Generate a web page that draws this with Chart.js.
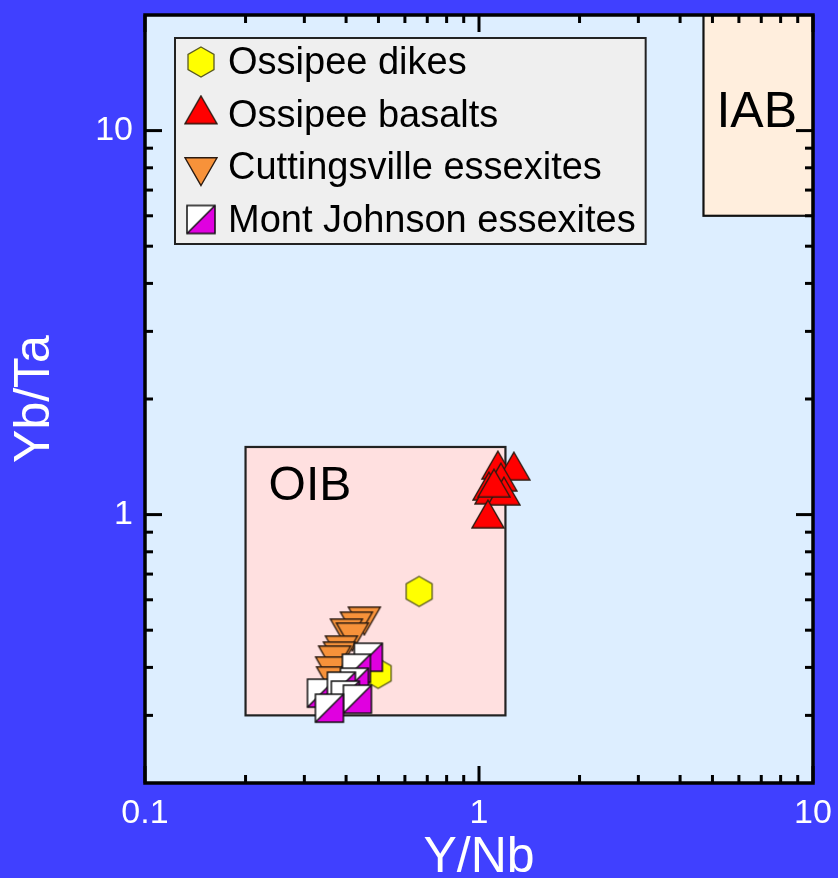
<!DOCTYPE html>
<html><head><meta charset="utf-8">
<script src="https://cdn.jsdelivr.net/npm/chart.js@4.4.0/dist/chart.umd.min.js"></script>
<style>html,body{margin:0;padding:0;background:#4040FF;}canvas{display:block;}</style>
</head><body>
<canvas id="c" width="838" height="878"></canvas>
<script>
// ---- data ----
const seriesNames = ['Ossipee dikes', 'Ossipee basalts', 'Cuttingsville essexites', 'Mont Johnson essexites'];
const dikesX = [0.662, 0.499];
const dikesY = [0.631, 0.386];
const basaltsX = [1.139, 1.272, 1.163, 1.071, 1.086, 1.188, 1.109, 1.064];
const basaltsY = [1.309, 1.301, 1.218, 1.154, 1.127, 1.120, 1.175, 0.976];
const cuttX = [0.4536, 0.4294, 0.4009, 0.4178, 0.3873, 0.382, 0.3695, 0.3620, 0.3643];
const cuttY = [0.5433, 0.5273, 0.5058, 0.4938, 0.4568, 0.4406, 0.4302, 0.4029, 0.3795];
const mjX = [0.4664, 0.4294, 0.4236, 0.3376, 0.3873, 0.398, 0.4324, 0.3566];
const mjY = [0.4252, 0.398, 0.3662, 0.3428, 0.3574, 0.3388, 0.3307, 0.3133];
const xTickValues = [0.1, 1, 10];
const xTickLabels = ['0.1', '1', '10'];
const yTickValues = [1, 10];
const yTickLabels = ['1', '10'];
const xMinorTicks = [0.2, 0.3, 0.4, 0.5, 0.6, 0.7, 0.8, 0.9, 2, 3, 4, 5, 6, 7, 8, 9];
const yMinorTicks = [0.3, 0.4, 0.5, 0.6, 0.7, 0.8, 0.9, 2, 3, 4, 5, 6, 7, 8, 9];
const regionNames = ['OIB', 'IAB'];
const oibBoxX = [0.2, 1.2];
const oibBoxY = [0.3, 1.5];
const iabBoxX = [4.7, 10];
const iabBoxY = [6, 20];

const FONT = "'Liberation Sans', Arial, sans-serif";

// ---- marker images ----
function makeCanvas(w, h, draw) {
  const c = document.createElement('canvas');
  c.width = w; c.height = h;
  draw(c.getContext('2d'), w, h);
  return c;
}
const hexMarker = makeCanvas(32, 34, (g, w, h) => {
  const R = 15, cx = w / 2, cy = h / 2;
  g.beginPath();
  for (let k = 0; k < 6; k++) {
    const a = -Math.PI / 2 + k * Math.PI / 3;
    const px = cx + R * Math.cos(a), py = cy + R * Math.sin(a);
    k ? g.lineTo(px, py) : g.moveTo(px, py);
  }
  g.closePath();
  g.fillStyle = '#FFFF00'; g.fill();
  g.lineWidth = 1.3; g.strokeStyle = '#5a5a20'; g.stroke();
});
function triMarker(color, down) {
  return makeCanvas(40, 40, (g, w, h) => {
    const W = 32, H = W * Math.sqrt(3) / 2, cx = w / 2, cy = h / 2;
    g.beginPath();
    if (!down) {
      g.moveTo(cx, cy - 2 * H / 3); g.lineTo(cx + W / 2, cy + H / 3); g.lineTo(cx - W / 2, cy + H / 3);
    } else {
      g.moveTo(cx, cy + 2 * H / 3); g.lineTo(cx + W / 2, cy - H / 3); g.lineTo(cx - W / 2, cy - H / 3);
    }
    g.closePath();
    g.fillStyle = color; g.fill();
    g.lineWidth = 1.4; g.strokeStyle = '#2a1a10'; g.stroke();
  });
}
const upMarker = triMarker('#FF0000', false);
const downMarker = triMarker('#F7923A', true);
const sqMarker = makeCanvas(32, 32, (g, w, h) => {
  const s = 28, x0 = (w - s) / 2, y0 = (h - s) / 2;
  g.fillStyle = '#FFFFFF'; g.fillRect(x0, y0, s, s);
  g.beginPath(); g.moveTo(x0, y0 + s); g.lineTo(x0 + s, y0); g.lineTo(x0 + s, y0 + s); g.closePath();
  g.fillStyle = '#E000E0'; g.fill();
  g.lineWidth = 1.5; g.strokeStyle = '#111';
  g.beginPath(); g.moveTo(x0, y0 + s); g.lineTo(x0 + s, y0); g.stroke();
  g.strokeRect(x0, y0, s, s);
});
const markers = [hexMarker, upMarker, downMarker, sqMarker];

function pts(xs, ys) { return xs.map((x, i) => ({ x: x, y: ys[i] })); }

const datasets = [
  { label: seriesNames[0], data: pts(dikesX, dikesY), order: 4 },
  { label: seriesNames[1], data: pts(basaltsX, basaltsY), order: 3 },
  { label: seriesNames[2], data: pts(cuttX, cuttY), order: 2 },
  { label: seriesNames[3], data: pts(mjX, mjY), order: 1 }
].map((d, i) => Object.assign(d, { pointStyle: markers[i], pointRadius: 14, pointHoverRadius: 14 }));

function line(ctx, x1, y1, x2, y2) { ctx.beginPath(); ctx.moveTo(x1, y1); ctx.lineTo(x2, y2); ctx.stroke(); }

const decorPlugin = {
  id: 'decor',
  beforeDraw(chart) {
    const ctx = chart.ctx, a = chart.chartArea;
    ctx.save();
    ctx.fillStyle = '#4040FF'; ctx.fillRect(0, 0, chart.width, chart.height);
    ctx.fillStyle = '#DDEEFF'; ctx.fillRect(a.left, a.top, a.right - a.left, a.bottom - a.top);
    ctx.restore();
  },
  beforeDatasetsDraw(chart) {
    const ctx = chart.ctx, xs = chart.scales.x, ys = chart.scales.y;
    ctx.save();
    // OIB
    let l = xs.getPixelForValue(oibBoxX[0]), r = xs.getPixelForValue(oibBoxX[1]);
    let t = ys.getPixelForValue(oibBoxY[1]), b = ys.getPixelForValue(oibBoxY[0]);
    ctx.fillStyle = '#FFE0E0'; ctx.fillRect(l, t, r - l, b - t);
    ctx.strokeStyle = '#222'; ctx.lineWidth = 2.2; ctx.strokeRect(l, t, r - l, b - t);
    ctx.fillStyle = '#000'; ctx.font = '48px ' + FONT; ctx.textBaseline = 'alphabetic'; ctx.textAlign = 'left';
    ctx.fillText(regionNames[0], l + 23, t + 53);
    // IAB
    l = xs.getPixelForValue(iabBoxX[0]); r = xs.getPixelForValue(iabBoxX[1]);
    t = ys.getPixelForValue(iabBoxY[1]); b = ys.getPixelForValue(iabBoxY[0]);
    ctx.fillStyle = '#FFEEDD'; ctx.fillRect(l, t, r - l, b - t);
    ctx.strokeStyle = '#111'; ctx.lineWidth = 2.2; ctx.strokeRect(l, t, r - l, b - t);
    ctx.fillStyle = '#000'; ctx.font = '50px ' + FONT;
    ctx.fillText(regionNames[1], l + 13, b - 89);
    ctx.restore();
  },
  afterDatasetsDraw(chart) {
    const ctx = chart.ctx, a = chart.chartArea, xs = chart.scales.x, ys = chart.scales.y;
    ctx.save();
    ctx.strokeStyle = '#000'; ctx.lineWidth = 3;
    const major = 17, minor = 8;
    xTickValues.forEach(v => { const p = xs.getPixelForValue(v); line(ctx, p, a.bottom, p, a.bottom - major); line(ctx, p, a.top, p, a.top + major); });
    xMinorTicks.forEach(v => { const p = xs.getPixelForValue(v); line(ctx, p, a.bottom, p, a.bottom - minor); line(ctx, p, a.top, p, a.top + minor); });
    yTickValues.forEach(v => { const p = ys.getPixelForValue(v); line(ctx, a.left, p, a.left + major, p); line(ctx, a.right, p, a.right - major, p); });
    yMinorTicks.forEach(v => { const p = ys.getPixelForValue(v); line(ctx, a.left, p, a.left + minor, p); line(ctx, a.right, p, a.right - minor, p); });
    ctx.lineWidth = 3.5;
    ctx.strokeRect(a.left, a.top, a.right - a.left, a.bottom - a.top);
    ctx.restore();
  },
  afterDraw(chart) {
    const ctx = chart.ctx, a = chart.chartArea;
    ctx.save();
    ctx.font = '38px ' + FONT;
    const names = chart.data.datasets.map(d => d.label);
    const maxW = Math.max(...names.map(n => ctx.measureText(n).width));
    const bx = a.left + 30, by = a.top + 23, bw = 53 + maxW + 10, bh = 206;
    ctx.fillStyle = '#EFEFEF'; ctx.fillRect(bx, by, bw, bh);
    ctx.strokeStyle = '#222'; ctx.lineWidth = 2; ctx.strokeRect(bx, by, bw, bh);
    ctx.fillStyle = '#000'; ctx.textAlign = 'left'; ctx.textBaseline = 'middle';
    names.forEach((n, i) => {
      const cy = by + 24 + i * 52.5;
      const m = markers[i];
      ctx.drawImage(m, bx + 26 - m.width / 2, cy - m.height / 2);
      ctx.fillText(n, bx + 53, cy + 2);
    });
    ctx.restore();
  }
};

function zeroPad(s) { s.paddingTop = 0; s.paddingBottom = 0; s.paddingLeft = 0; s.paddingRight = 0; }

new Chart(document.getElementById('c'), {
  type: 'scatter',
  data: { datasets: datasets },
  options: {
    responsive: false,
    animation: false,
    devicePixelRatio: 1,
    layout: { padding: { top: 14, right: 25, left: 0, bottom: 0 } },
    plugins: { legend: { display: false }, tooltip: { enabled: false } },
    scales: {
      x: {
        type: 'logarithmic', position: 'bottom', min: 0.1, max: 10,
        grid: { display: false, drawTicks: false }, border: { display: false },
        afterBuildTicks: s => { s.ticks = xTickValues.map(v => ({ value: v })); },
        afterFit: s => { s.height = 95; zeroPad(s); },
        ticks: { autoSkip: false, maxRotation: 0, color: '#FFFFFF', padding: 10, font: { family: FONT, size: 34 },
          callback: (v) => { const i = xTickValues.indexOf(v); return i >= 0 ? xTickLabels[i] : ''; } },
        title: { display: true, text: 'Y/Nb', color: '#FFFFFF', font: { family: FONT, size: 50, lineHeight: 0.8 }, padding: 0 }
      },
      y: {
        type: 'logarithmic', position: 'left', min: 0.2, max: 20,
        grid: { display: false, drawTicks: false }, border: { display: false },
        afterBuildTicks: s => { s.ticks = yTickValues.map(v => ({ value: v })); },
        afterFit: s => { s.width = 145; zeroPad(s); },
        ticks: { autoSkip: false, color: '#FFFFFF', padding: 12, font: { family: FONT, size: 34 },
          callback: (v) => { const i = yTickValues.indexOf(v); return i >= 0 ? yTickLabels[i] : ''; } },
        title: { display: true, text: 'Yb/Ta', color: '#FFFFFF', font: { family: FONT, size: 50, lineHeight: 1 }, padding: { top: 10, bottom: 0 } }
      }
    }
  },
  plugins: [decorPlugin]
});
</script>
</body></html>
